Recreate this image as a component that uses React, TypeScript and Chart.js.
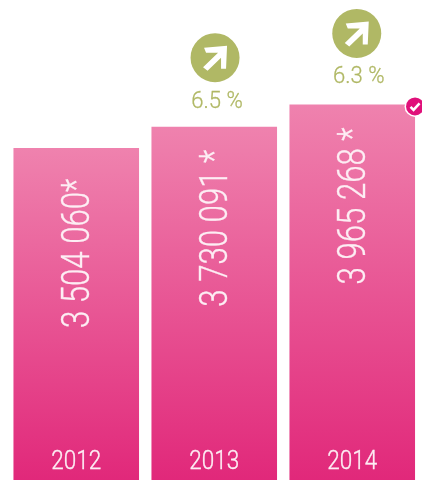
import React, { useEffect, useRef } from "react";
import { Chart, registerables } from "chart.js";

Chart.register(...registerables);

const years = ["2012", "2013", "2014"];
const values = [3504060, 3730091, 3965268];
const valueLabels = ["3 504 060*", "3 730 091 *", "3 965 268 *"];
const growth = [null, "6.5 %", "6.3 %"];

const FONT = "Roboto, 'Liberation Sans', sans-serif";
const GREEN = "#b0b865";
const MAGENTA = "#e0107a";

const overlay = {
  id: "overlay",
  afterDatasetsDraw(chart: any) {
    const { ctx } = chart;
    const bars = chart.getDatasetMeta(0).data;
    const bottom = chart.chartArea.bottom;
    bars.forEach((bar: any, i: number) => {
      ctx.save();
      ctx.fillStyle = "#fdeef4";
      ctx.strokeStyle = "#fdeef4";
      ctx.lineWidth = 0.35;
      ctx.textBaseline = "alphabetic";
      ctx.save();
      ctx.translate(bar.x, bottom - 11);
      ctx.scale(0.9, 1);
      ctx.textAlign = "center";
      ctx.font = `300 25px ${FONT}`;
      ctx.fillText(years[i], 0, 0);
      ctx.strokeText(years[i], 0, 0);
      ctx.restore();

      ctx.translate(bar.x + 12.5, bar.y + 180);
      ctx.rotate(-Math.PI / 2);
      ctx.scale(0.82, 1);
      ctx.textAlign = "left";
      ctx.font = `300 38px ${FONT}`;
      ctx.fillText(valueLabels[i], 0, 0);
      ctx.strokeText(valueLabels[i], 0, 0);
      ctx.restore();

      const g = growth[i];
      if (g) {
        const cx = bar.x + (i === 1 ? 0.8 : 4.5);
        const cy = bar.y - (i === 1 ? 69 : 71);
        ctx.save();
        ctx.fillStyle = GREEN;
        ctx.beginPath();
        ctx.arc(cx, cy, 24.5, 0, Math.PI * 2);
        ctx.fill();
        ctx.translate(cx, cy);
        ctx.fillStyle = "#ffffff";
        ctx.beginPath();
        ctx.moveTo(12, -12);
        ctx.lineTo(-11, -10);
        ctx.lineTo(-9, -5);
        ctx.lineTo(3, -5);
        ctx.lineTo(-12, 9.5);
        ctx.lineTo(-7.5, 13);
        ctx.lineTo(6, 0);
        ctx.lineTo(6, 11);
        ctx.lineTo(11, 11);
        ctx.closePath();
        ctx.fill();
        ctx.restore();

        ctx.save();
        ctx.fillStyle = GREEN;
        ctx.strokeStyle = GREEN;
        ctx.lineWidth = 0.3;
        ctx.translate(cx + 2, cy + 50);
        ctx.scale(0.92, 1);
        ctx.font = `300 24px ${FONT}`;
        ctx.textAlign = "center";
        ctx.fillText(g, 0, 0);
        ctx.strokeText(g, 0, 0);
        ctx.restore();
      }

      if (i === bars.length - 1) {
        const bx = bar.x + bar.width / 2;
        const by = bar.y + 2;
        ctx.save();
        ctx.fillStyle = "#ffffff";
        ctx.beginPath();
        ctx.arc(bx, by, 10.5, 0, Math.PI * 2);
        ctx.fill();
        ctx.fillStyle = MAGENTA;
        ctx.beginPath();
        ctx.arc(bx, by, 9, 0, Math.PI * 2);
        ctx.fill();
        ctx.strokeStyle = "#ffffff";
        ctx.lineWidth = 2.6;
        ctx.beginPath();
        ctx.moveTo(bx - 4.5, by + 0.5);
        ctx.lineTo(bx - 1.5, by + 3.5);
        ctx.lineTo(bx + 4.5, by - 3);
        ctx.stroke();
        ctx.restore();
      }
    });
  },
};

export default function App() {
  const ref = useRef<HTMLCanvasElement>(null);
  useEffect(() => {
    const chart = new Chart(ref.current as HTMLCanvasElement, {
      type: "bar",
      data: {
        labels: years,
        datasets: [
          {
            data: values,
            borderWidth: 0,
            barPercentage: 0.91,
            categoryPercentage: 1,
            backgroundColor: (c: any) => {
              const { chart: ch, dataIndex } = c;
              const y = ch.scales?.y;
              if (!y || !ch.chartArea) return "#e8488a";
              const g = ch.ctx.createLinearGradient(0, y.getPixelForValue(values[dataIndex]), 0, y.getPixelForValue(0));
              g.addColorStop(0, "#ef82ae");
              g.addColorStop(1, "#e1287a");
              return g;
            },
          },
        ],
      },
      options: {
        animation: false,
        responsive: false,
        maintainAspectRatio: false,
        layout: { padding: { left: 7.25, right: 0.75, top: 0, bottom: 0 } },
        plugins: { legend: { display: false }, tooltip: { enabled: false } },
        scales: {
          x: { display: false },
          y: { display: false, min: 0, max: 5068000 },
        },
      },
      plugins: [overlay],
    } as any);
    return () => chart.destroy();
  }, []);
  return (
    <div style={{ position: "fixed", left: 0, top: 0, width: 422, height: 480, overflow: "hidden", background: "#fff" }}>
      <canvas ref={ref} width={422} height={480} style={{ display: "block" }} />
    </div>
  );
}
